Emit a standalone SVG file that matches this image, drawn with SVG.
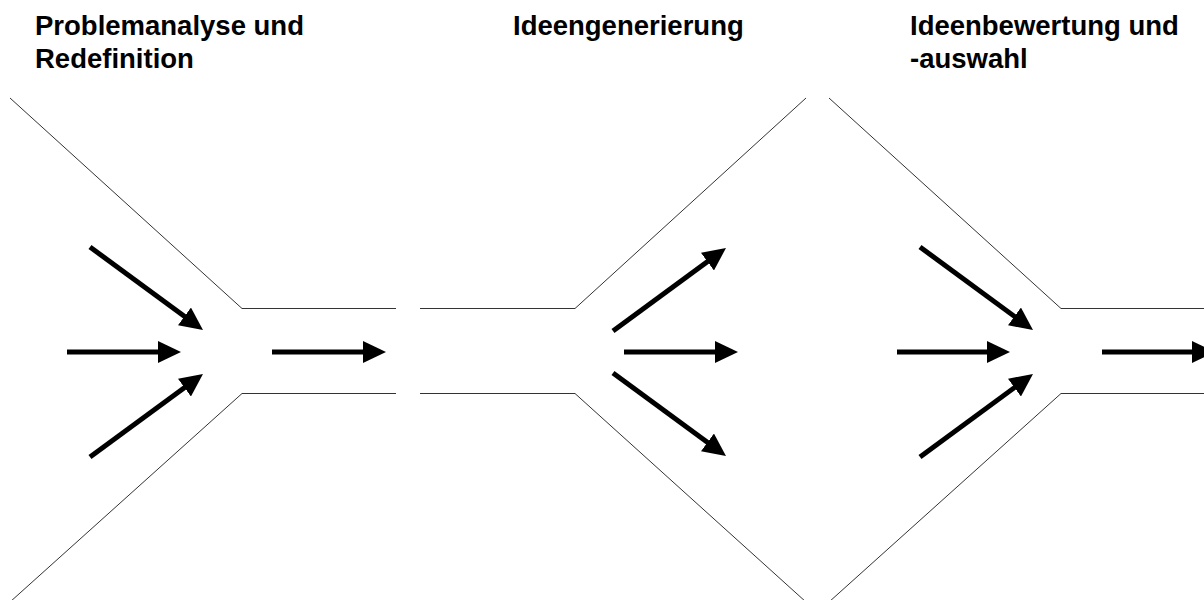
<svg xmlns="http://www.w3.org/2000/svg" width="1204" height="600" viewBox="0 0 1204 600">
  <style>
    .title { font-family: "Liberation Sans", Arial, sans-serif; font-weight: bold; font-size: 27.5px; fill: #000; }
    .wall { fill: none; stroke: #333; stroke-width: 1; }
    .flow { stroke: #000; stroke-width: 5; fill: none; marker-end: url(#head); }
  </style>
  <defs>
    <marker id="head" markerUnits="userSpaceOnUse" markerWidth="23" markerHeight="22" refX="10" refY="11" orient="auto">
      <path d="M0,0 L23,11 L0,22 z" fill="#000"/>
    </marker>
  </defs>
  <rect width="1204" height="600" fill="#fff"/>

  <!-- Stage 1: converging funnel -->
  <g id="stage-problem">
    <text class="title" x="35" y="35">Problemanalyse und</text>
    <text class="title" x="35" y="68">Redefinition</text>
    <polyline class="wall" points="10,98 242,308.5 396,308.5"/>
    <polyline class="wall" points="10,602 242,393.5 396,393.5"/>
  </g>

  <!-- Stage 2: diverging funnel -->
  <g id="stage-ideas">
    <text class="title" x="513" y="35">Ideengenerierung</text>
    <polyline class="wall" points="420,308.5 575,308.5 806,98"/>
    <polyline class="wall" points="420,393.5 575,393.5 806,602"/>
  </g>

  <!-- Stage 3: converging funnel -->
  <g id="stage-selection">
    <text class="title" x="910" y="35">Ideenbewertung und</text>
    <text class="title" x="910" y="68">-auswahl</text>
    <polyline class="wall" points="829,98 1061,308.5 1204,308.5"/>
    <polyline class="wall" points="829,602 1061,393.5 1204,393.5"/>
  </g>

  <!-- Flow arrows -->
  <g id="connectors">
    <line class="flow" x1="90" y1="247" x2="192.5" y2="322.3"/>
    <line class="flow" x1="67" y1="352" x2="168" y2="352"/>
    <line class="flow" x1="90" y1="457" x2="192.5" y2="381.7"/>
    <line class="flow" x1="272" y1="352" x2="373" y2="352"/>

    <line class="flow" x1="613" y1="331" x2="715.5" y2="255.7"/>
    <line class="flow" x1="624" y1="352" x2="725" y2="352"/>
    <line class="flow" x1="613" y1="373" x2="715.5" y2="448.3"/>

    <line class="flow" x1="920" y1="247" x2="1022.5" y2="322.3"/>
    <line class="flow" x1="897" y1="352" x2="997" y2="352"/>
    <line class="flow" x1="920" y1="457" x2="1022.5" y2="381.7"/>
    <line class="flow" x1="1102" y1="352" x2="1202" y2="352"/>
  </g>
</svg>
